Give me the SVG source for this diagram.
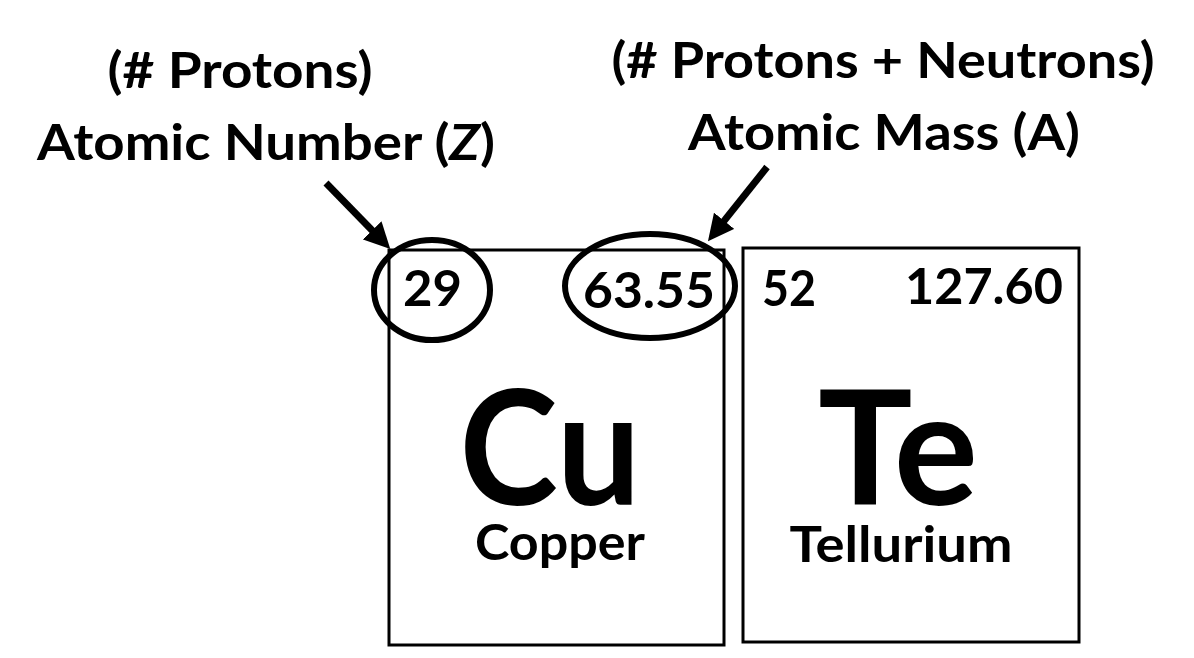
<svg xmlns="http://www.w3.org/2000/svg" width="1194" height="658" viewBox="0 0 1194 658">
<style>
text{font-family:Lato,"Open Sans","Liberation Sans",sans-serif;font-weight:bold;fill:#000}
.lbl{font-size:50px;text-anchor:middle}
.num{font-size:50px}
.sym{font-size:160px;text-anchor:middle}
.name{font-size:50px;text-anchor:middle}
.box{fill:#fff;stroke:#000;stroke-width:3}
.ring{fill:none;stroke:#000;stroke-width:6}
.conn{stroke:#000;stroke-width:7;fill:none}
</style>
<defs>
<marker id="ah" viewBox="0 0 10 10" refX="3" refY="5" markerWidth="26" markerHeight="26" markerUnits="userSpaceOnUse" orient="auto">
<path d="M0,0 L10,5 L0,10 z" fill="#000"/>
</marker>
</defs>
<rect width="1194" height="658" fill="#fff"/>
<g id="label-z">
<text class="lbl" x="240" y="88" textLength="265" lengthAdjust="spacingAndGlyphs">(# Protons)</text>
<text class="lbl" x="266" y="160" textLength="458" lengthAdjust="spacingAndGlyphs">Atomic Number (<tspan font-style="italic">Z</tspan>)</text>
</g>
<g id="label-a">
<text class="lbl" x="883" y="78" textLength="543" lengthAdjust="spacingAndGlyphs">(# Protons + Neutrons)</text>
<text class="lbl" x="884" y="150" textLength="392" lengthAdjust="spacingAndGlyphs">Atomic Mass (A)</text>
</g>
<g id="cu">
<rect class="box" x="389" y="250" width="335" height="395"/>
<text class="num" x="403" y="306" textLength="59" lengthAdjust="spacingAndGlyphs">29</text>
<text class="num" x="583" y="308" textLength="132" lengthAdjust="spacingAndGlyphs">63.55</text>
<text class="sym" x="550" y="505" textLength="181" lengthAdjust="spacingAndGlyphs">Cu</text>
<text class="name" x="560" y="560" textLength="170" lengthAdjust="spacingAndGlyphs">Copper</text>
</g>
<g id="te">
<rect class="box" x="743" y="248" width="336" height="394"/>
<text class="num" x="762" y="306" textLength="54" lengthAdjust="spacingAndGlyphs">52</text>
<text class="num" x="905" y="304" textLength="158" lengthAdjust="spacingAndGlyphs">127.60</text>
<text class="sym" x="898" y="505" textLength="160" lengthAdjust="spacingAndGlyphs">Te</text>
<text class="name" x="901" y="562" textLength="223" lengthAdjust="spacingAndGlyphs">Tellurium</text>
</g>
<g id="connectors">
<ellipse class="ring" cx="432" cy="290" rx="58" ry="50"/>
<ellipse class="ring" cx="650" cy="286" rx="85" ry="52"/>
<line class="conn" x1="326" y1="183" x2="377.6" y2="236" marker-end="url(#ah)"/>
<line class="conn" x1="767" y1="167" x2="719.3" y2="226.9" marker-end="url(#ah)"/>
</g>
</svg>
